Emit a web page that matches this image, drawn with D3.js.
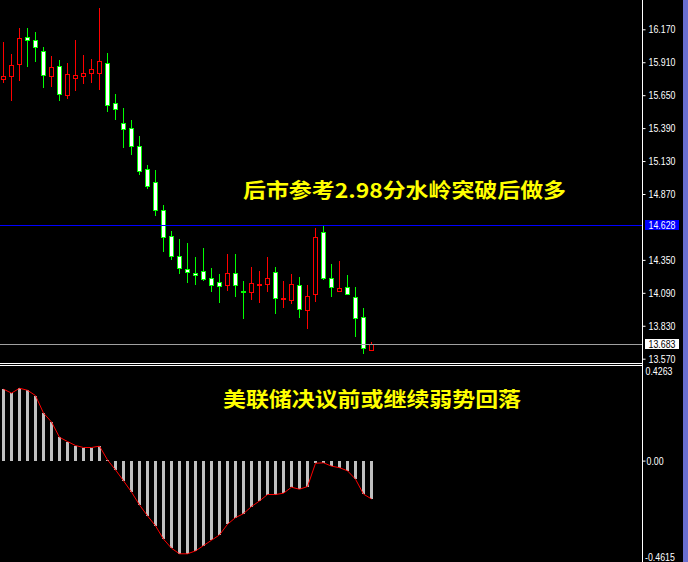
<!DOCTYPE html>
<html>
<head>
<meta charset="utf-8">
<script src="https://cdn.jsdelivr.net/npm/d3@7/dist/d3.min.js"></script>
<style>
html,body{margin:0;padding:0;background:#000;}
svg{display:block;}
</style>
</head>
<body>
<svg id="chart" width="688" height="562"></svg>
<script>
// ---------- DATA ----------
const openP  = [15.775,15.799,15.894,16.107,16.086,15.999,15.804,15.880,15.651,15.788,15.804,15.825,15.827,15.902,15.586,15.428,15.389,15.247,15.067,14.962,14.741,14.536,14.378,14.276,14.247,14.262,14.207,14.176,14.154,14.247,14.107,14.099,14.156,14.157,14.254,14.046,14.036,14.152,13.957,14.083,14.570,14.207,14.107,14.136,14.057,13.899,13.641];
const highP  = [16.070,15.975,16.180,16.180,16.149,16.030,15.959,15.928,15.904,16.086,15.967,15.936,16.338,15.981,15.659,15.549,15.454,15.328,15.099,15.060,14.783,14.578,14.515,14.483,14.373,14.444,14.286,14.239,14.397,14.397,14.183,14.294,14.262,14.373,14.294,14.183,14.239,14.215,14.152,14.602,14.625,14.318,14.341,14.231,14.136,13.970,13.702];
const lowP   = [15.756,15.612,15.770,15.883,15.920,15.715,15.723,15.612,15.628,15.691,15.746,15.754,15.699,15.525,15.462,15.241,15.186,15.028,14.917,14.704,14.420,14.354,14.247,14.176,14.160,14.191,14.105,14.018,14.112,14.065,13.891,14.041,14.018,14.105,13.931,13.978,14.010,13.899,13.813,14.026,14.202,14.065,14.105,14.081,13.749,13.615,13.639];
const closeP = [15.799,15.886,16.099,16.088,16.033,15.812,15.872,15.659,15.817,15.809,15.825,15.857,15.920,15.570,15.539,15.385,15.251,15.054,14.936,14.746,14.533,14.383,14.288,14.257,14.231,14.199,14.154,14.146,14.247,14.154,14.103,14.168,14.158,14.207,14.052,14.048,14.160,13.965,14.065,14.531,14.209,14.138,14.128,14.083,13.894,13.657,13.683];
const macdHist = [0.322,0.304,0.326,0.317,0.293,0.214,0.174,0.105,0.086,0.068,0.059,0.059,0.065,0.003,-0.042,-0.091,-0.142,-0.200,-0.249,-0.294,-0.354,-0.395,-0.420,-0.420,-0.407,-0.383,-0.359,-0.335,-0.287,-0.257,-0.239,-0.207,-0.182,-0.153,-0.153,-0.147,-0.120,-0.129,-0.117,-0.012,-0.010,-0.025,-0.032,-0.046,-0.084,-0.151,-0.173];
const priceTicks = [16.170,15.910,15.650,15.390,15.130,14.870,14.350,14.090,13.830,13.570];
const hLineBlue = 14.628;   // highlighted level
const bidLine = 13.683;     // current price
const macdMax = 0.4263, macdMin = -0.4615;
const macdLabels = ["0.4263","0.00","-0.4615"];
const title1 = "后市参考2.98分水岭突破后做多";
const title2 = "美联储决议前或继续弱势回落";

// ---------- SCALES ----------
const svg = d3.select("#chart");
svg.append("rect").attr("width",688).attr("height",562).attr("fill","#000");

const x = d3.scaleLinear().domain([0, openP.length-1]).range([3.5, 3.5 + 8*(openP.length-1)]);
const yP = d3.scaleLinear().domain([13.57, 16.17]).range([358.7, 29.3]);
const yM = d3.scaleLinear().domain([macdMin, macdMax]).range([563, 366]);

const AX = 642.5;
const fontLbl = "'Liberation Sans', Arial, sans-serif";
const FS = 11;

// ---------- CANDLES ----------
const candles = openP.map((o,i)=>({i, o, h:highP[i], l:lowP[i], c:closeP[i]}));
const gC = svg.append("g");
candles.forEach(d=>{
  const bull = d.c >= d.o;
  const col = bull ? "#ff0000" : "#00ff00";
  const cx = x(d.i);
  const yH = Math.round(yP(d.h)), yL = Math.round(yP(d.l));
  let top = Math.round(yP(Math.max(d.o,d.c))), bot = Math.round(yP(Math.min(d.o,d.c)));
  if (bot - top < 1) bot = top + 1;
  gC.append("line").attr("x1",cx).attr("x2",cx).attr("y1",yH).attr("y2",yL+1)
    .attr("stroke",col).attr("stroke-width",1);
  gC.append("rect").attr("x",cx-2).attr("y",top+0.5).attr("width",4).attr("height",bot-top)
    .attr("fill", bull ? "#000" : "#fff").attr("stroke",col).attr("stroke-width",1);
});

// horizontal level lines
svg.append("line").attr("x1",0).attr("x2",AX).attr("y1",Math.round(yP(hLineBlue))+0.5).attr("y2",Math.round(yP(hLineBlue))+0.5)
  .attr("stroke","#0000ff").attr("stroke-width",1);
svg.append("line").attr("x1",0).attr("x2",AX).attr("y1",Math.round(yP(bidLine))+0.5).attr("y2",Math.round(yP(bidLine))+0.5)
  .attr("stroke","#a0a0a0").attr("stroke-width",1);

// ---------- MACD ----------
const z0 = Math.round(yM(0));
const gM = svg.append("g");
gM.selectAll("rect").data(macdHist).join("rect")
  .attr("x",(d,i)=>x(i)-1.5)
  .attr("width",3)
  .attr("y",d=> d>=0 ? Math.round(yM(d)) : z0)
  .attr("height",d=> Math.max(1, Math.abs(Math.round(yM(d)) - z0)))
  .attr("fill","#c0c0c0");
gM.append("path").datum(macdHist)
  .attr("d", d3.line().x((d,i)=>x(i)).y(d=>yM(d)))
  .attr("fill","none").attr("stroke","#ff0000").attr("stroke-width",1);

// ---------- FRAME ----------
svg.append("line").attr("x1",0).attr("x2",AX).attr("y1",363.5).attr("y2",363.5).attr("stroke","#fff");
svg.append("line").attr("x1",0).attr("x2",AX).attr("y1",365.5).attr("y2",365.5).attr("stroke","#fff");
svg.append("line").attr("x1",AX).attr("x2",AX).attr("y1",0).attr("y2",562).attr("stroke","#fff");
svg.append("rect").attr("x",683).attr("y",0).attr("width",5).attr("height",562).attr("fill","#6a6fcf");

// ---------- AXES ----------
function styleAxis(g){
  g.select(".domain").remove();
  g.selectAll(".tick line").attr("stroke","#fff");
  g.selectAll(".tick text").attr("fill","#fff").attr("font-family",fontLbl).attr("font-size",FS);
}
const gP = svg.append("g").attr("transform",`translate(${AX},0)`)
  .call(d3.axisRight(yP).tickValues(priceTicks).tickSize(3).tickPadding(3).tickFormat(d3.format(".3f")));
styleAxis(gP);

const gMA = svg.append("g").attr("transform",`translate(${AX},0)`)
  .call(d3.axisRight(yM).tickValues([0]).tickSize(3).tickPadding(1).tickFormat(()=>macdLabels[1]));
styleAxis(gMA);
svg.append("text").attr("class","lbl").attr("x",645.5).attr("y",371.7).attr("dy","0.34em").text(macdLabels[0])
  .attr("fill","#fff").attr("font-family",fontLbl).attr("font-size",FS);
svg.append("text").attr("class","lbl").attr("x",645).attr("y",557).attr("dy","0.34em").text(macdLabels[2])
  .attr("fill","#fff").attr("font-family",fontLbl).attr("font-size",FS);

// price label boxes
function priceBox(v, bg, fg){
  const yy = yP(v);
  svg.append("rect").attr("x",645).attr("y",Math.round(yy)-5).attr("width",34).attr("height",10).attr("fill",bg);
  svg.append("text").attr("class","lbl").attr("x",648.5).attr("y",yy).attr("dy","0.36em").text(d3.format(".3f")(v))
    .attr("fill",fg).attr("font-family",fontLbl).attr("font-size",FS);
}
priceBox(hLineBlue, "#0000ff", "#fff");
priceBox(bidLine, "#fff", "#000");

// narrow the label glyphs to resemble the bitmap terminal font
svg.selectAll(".tick text, text.lbl").each(function(){
  const w = this.getComputedTextLength();
  d3.select(this).attr("textLength", w*0.8).attr("lengthAdjust","spacingAndGlyphs");
});

// ---------- TITLES ----------
svg.append("text").attr("x",243).attr("y",189).attr("dominant-baseline","central")
  .attr("font-family","'Noto Sans CJK SC', sans-serif").attr("font-weight","bold").attr("font-size",20)
  .attr("fill","#ffff00").attr("textLength",323).attr("lengthAdjust","spacingAndGlyphs").text(title1);
svg.append("text").attr("x",223).attr("y",398).attr("dominant-baseline","central")
  .attr("font-family","'Noto Sans CJK SC', sans-serif").attr("font-weight","bold").attr("font-size",20)
  .attr("fill","#ffff00").attr("textLength",298).attr("lengthAdjust","spacingAndGlyphs").text(title2);
</script>
</body>
</html>
